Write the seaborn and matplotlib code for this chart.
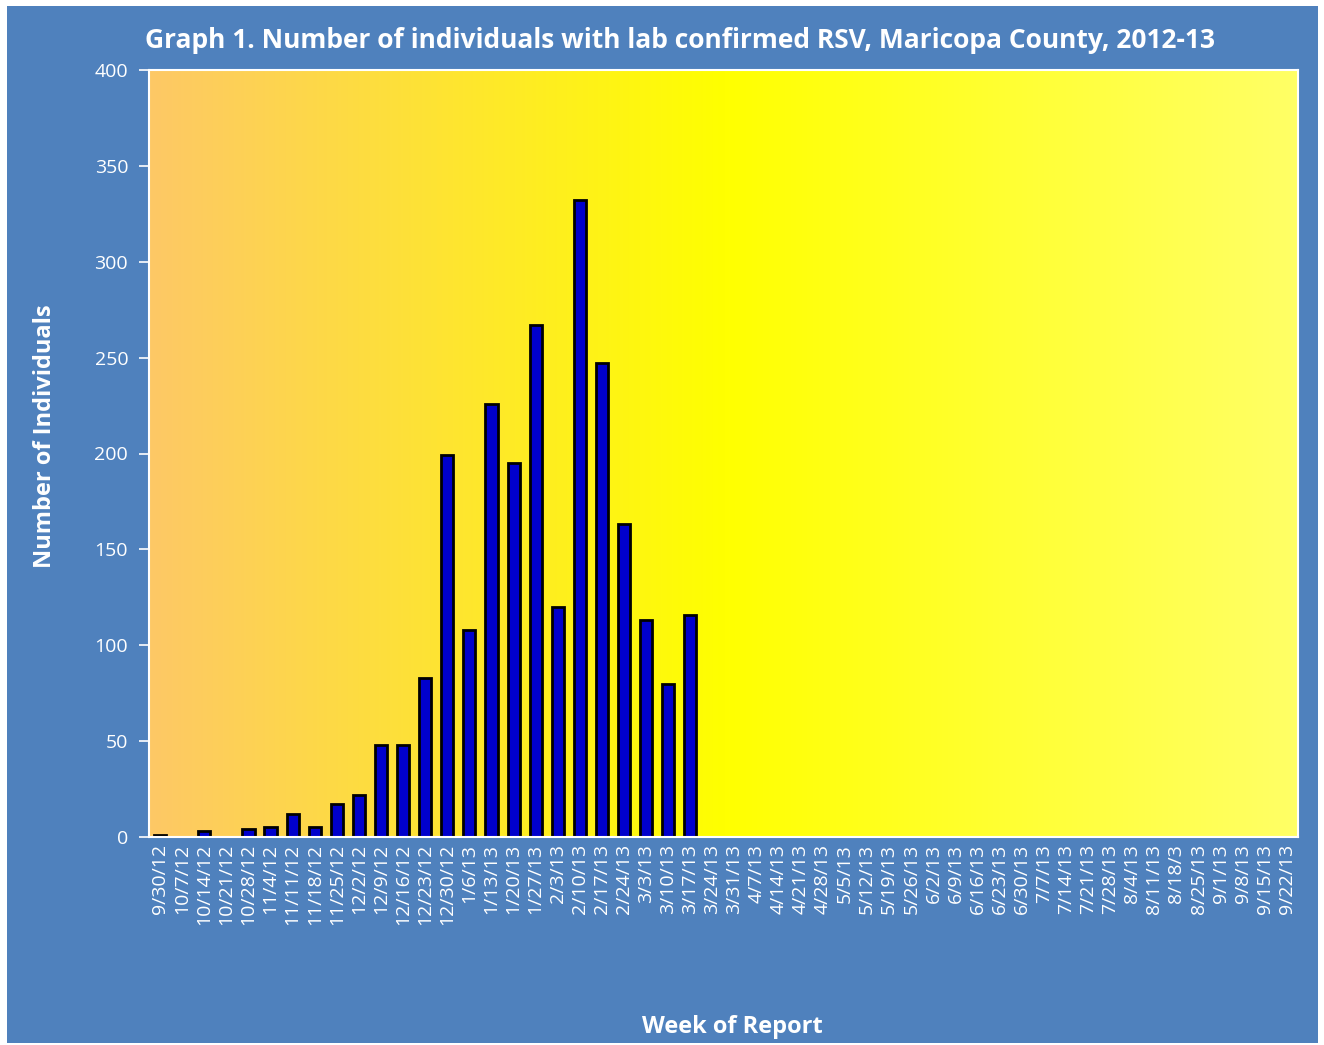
import numpy as np
import pandas as pd
import matplotlib
matplotlib.use("Agg")
import matplotlib.pyplot as plt
import seaborn as sns
from matplotlib.patches import Rectangle

weeks = ["9/30/12", "10/7/12", "10/14/12", "10/21/12", "10/28/12", "11/4/12", "11/11/12",
         "11/18/12", "11/25/12", "12/2/12", "12/9/12", "12/16/12", "12/23/12", "12/30/12",
         "1/6/13", "1/13/13", "1/20/13", "1/27/13", "2/3/13", "2/10/13", "2/17/13", "2/24/13",
         "3/3/13", "3/10/13", "3/17/13", "3/24/13", "3/31/13", "4/7/13", "4/14/13", "4/21/13",
         "4/28/13", "5/5/13", "5/12/13", "5/19/13", "5/26/13", "6/2/13", "6/9/13", "6/16/13",
         "6/23/13", "6/30/13", "7/7/13", "7/14/13", "7/21/13", "7/28/13", "8/4/13", "8/11/13",
         "8/18/3", "8/25/13", "9/1/13", "9/8/13", "9/15/13", "9/22/13"]
cases = [1, 0, 3, 0, 4, 5, 12, 5, 17, 22, 48, 48, 83, 199,
         108, 226, 195, 267, 120, 332, 247, 163, 113, 80, 116]
cases = cases + [np.nan] * (len(weeks) - len(cases))

df = pd.DataFrame({"week": weeks, "cases": cases})
df["plot_cases"] = df["cases"].replace(0, np.nan)

sns.set_style("white")
plt.rcParams["font.family"] = ["Open Sans", "DejaVu Sans"]

blue = "#4F81BD"
fig = plt.figure(figsize=(13.24, 10.45), dpi=100, facecolor="white")
fig.patches.append(Rectangle((7 / 1324, 2 / 1045), 1311 / 1324, 1037 / 1045,
                             transform=fig.transFigure, facecolor=blue,
                             edgecolor="none", zorder=-10))
ax = fig.add_axes([149 / 1324, 208 / 1045, 1149 / 1324, 767 / 1045])

# gradient plot area: orange -> yellow -> pale yellow
xs = np.linspace(0, 1, 400)
c_left = np.array([253, 200, 102]) / 255
c_mid = np.array([255, 255, 0]) / 255
c_right = np.array([255, 255, 102]) / 255
grad = np.zeros((1, len(xs), 3))
for i, t in enumerate(xs):
    if t < 0.5:
        grad[0, i] = c_left + (c_mid - c_left) * (t / 0.5)
    else:
        grad[0, i] = c_mid + (c_right - c_mid) * ((t - 0.5) / 0.5)
ax.imshow(grad, extent=[0, 1, 0, 1], transform=ax.transAxes, aspect="auto", zorder=0)

sns.barplot(data=df, x="week", y="plot_cases", color="#0000CC", edgecolor="black",
            linewidth=2, width=0.55, saturation=1, ax=ax, zorder=2)

ax.set_xlim(-0.5, len(weeks) - 0.5)
ax.set_ylim(0, 400)
ax.set_yticks(range(0, 401, 50))
ax.set_xticks(np.arange(-0.5, len(weeks), 1), minor=False)
ax.set_xticklabels([])
ax.set_xticks(range(len(weeks)), minor=True)
ax.set_xticklabels(weeks, minor=True, rotation=90, fontsize=14, color="white")
ax.tick_params(axis="x", which="major", length=7, color="white", width=1.2, direction="out")
ax.tick_params(axis="x", which="minor", length=0, pad=5)
ax.tick_params(axis="y", length=7, color="white", width=1.2, labelsize=14,
               labelcolor="white", left=True, pad=8)

for s in ax.spines.values():
    s.set_color("white")
    s.set_linewidth(1.5)

ax.set_xlabel("")
ax.set_ylabel("")
fig.text(732 / 1324, 1 - 1027 / 1045, "Week of Report", ha="center", va="center",
         fontsize=17, fontweight="bold", color="white")
fig.text(45 / 1324, 1 - 436 / 1045, "Number of Individuals", ha="center", va="center",
         rotation=90, fontsize=17, fontweight="bold", color="white")
fig.text(680 / 1324, 1 - 40 / 1045,
         "Graph 1. Number of individuals with lab confirmed RSV, Maricopa County, 2012-13",
         ha="center", va="center", fontsize=19, fontweight="bold", color="white")

fig.savefig("out.png", dpi=100, facecolor="white")
